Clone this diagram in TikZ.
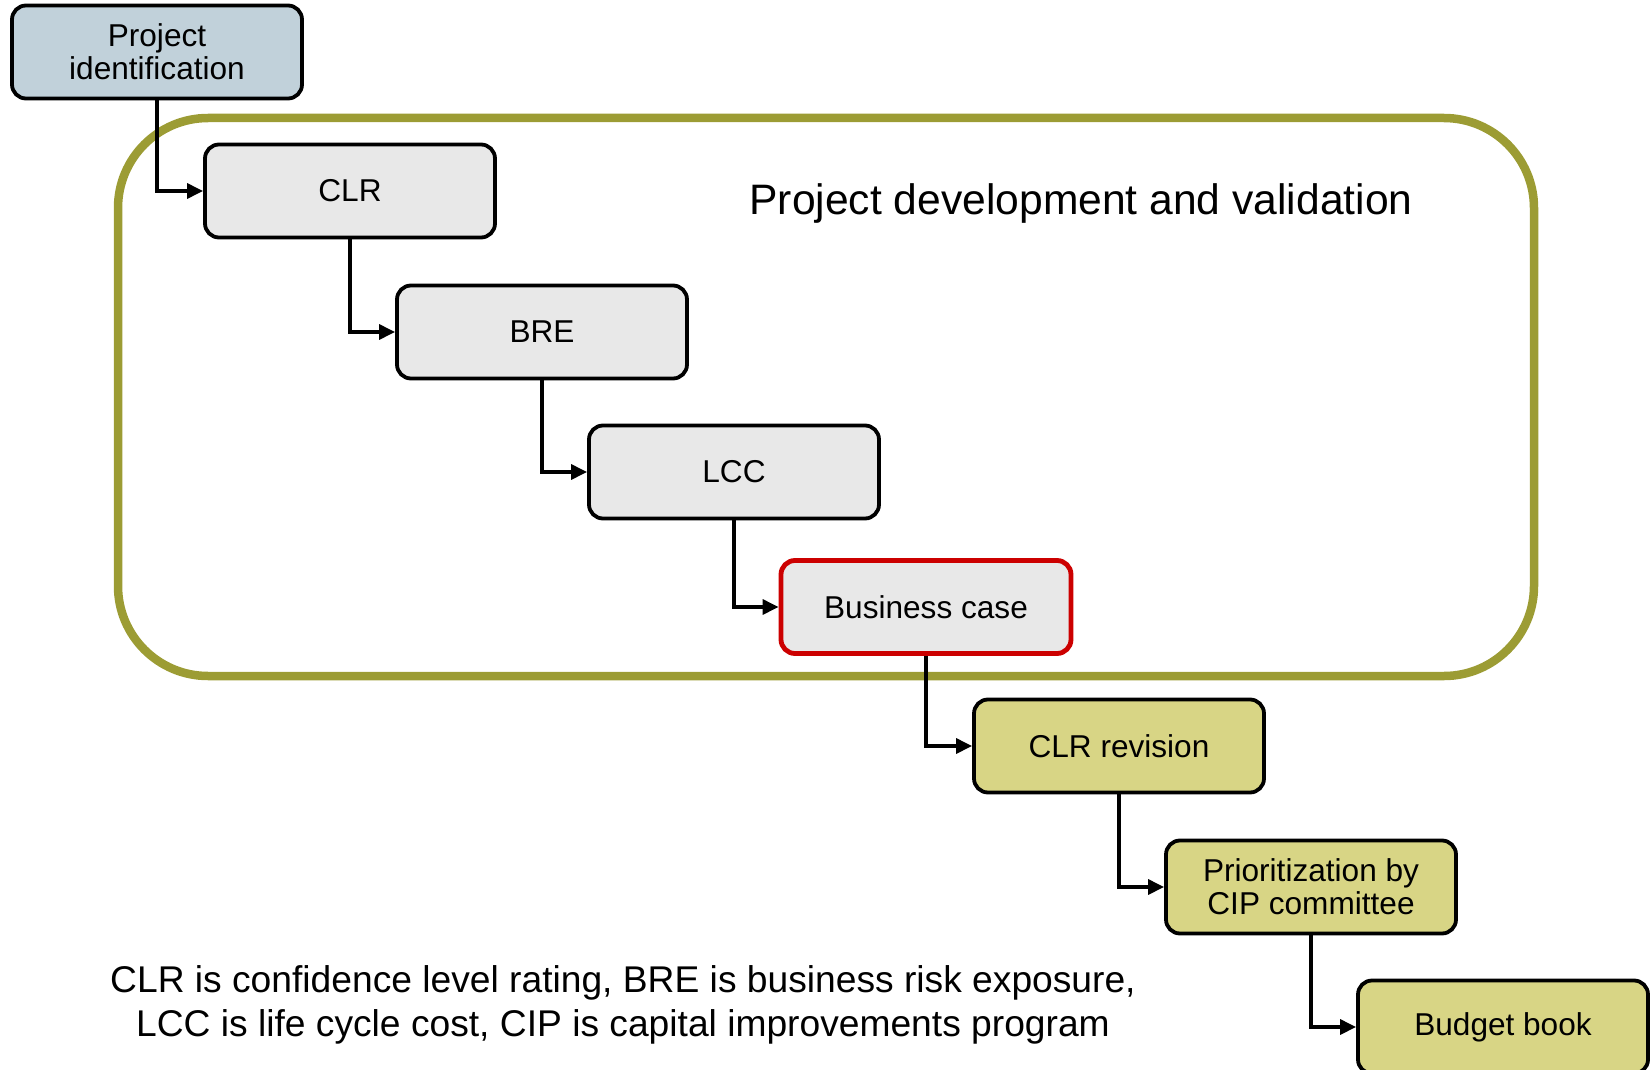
\documentclass[tikz,border=0pt]{standalone}
\usepackage{fontspec}
\setmainfont{Liberation Sans}
\usetikzlibrary{arrows.meta}
\definecolor{pidblue}{HTML}{C1D1DA}
\definecolor{boxgray}{HTML}{E8E8E8}
\definecolor{olivefill}{HTML}{D8D585}
\definecolor{olivedraw}{HTML}{9C9C34}
\definecolor{bcred}{HTML}{CC0000}
\begin{document}
\begin{tikzpicture}[x=0.5pt,y=-0.5pt,
  box/.style={draw=black, line width=1.9pt, rounded corners=7pt, minimum width=145pt,
    minimum height=46.5pt, align=center, inner sep=0pt,
    font=\fontsize{15.8}{16.4}\selectfont},
  graybox/.style={box, fill=boxgray},
  olivebox/.style={box, fill=olivefill},
  conn/.style={draw=black, line width=1.6pt, -{Triangle[length=8pt,width=7.5pt]}},
  frame/.style={draw=olivedraw, line width=4.25pt, rounded corners=45pt},
]
\useasboundingbox (0,0) rectangle (1650,1070);

% outer frame
\draw[frame] (118,118) rectangle (1534,676);
\node[font=\fontsize{21.3}{25}\selectfont, anchor=center] (title) at (1081,203) {Project development and validation};

% nodes
\node[box, fill=pidblue] (pid) at (157,52) {Project\\identification};
\node[graybox] (clr) at (350,191) {CLR};
\node[graybox] (bre) at (542,332) {BRE};
\node[graybox] (lcc) at (734,472) {LCC};
\node[graybox, draw=bcred, line width=2.4pt] (bc) at (926,607) {Business case};
\node[olivebox] (clrr) at (1119,746) {CLR revision};
\node[olivebox] (prio) at (1311,887) {Prioritization by\\CIP committee};
\node[olivebox] (bb) at (1503,1027) {Budget book};

% connectors
\draw[conn] (pid.south) |- (clr.west);
\draw[conn] (clr.south) |- (bre.west);
\draw[conn] (bre.south) |- (lcc.west);
\draw[conn] (lcc.south) |- (bc.west);
\draw[conn] (bc.south) |- (clrr.west);
\draw[conn] (clrr.south) |- (prio.west);
\draw[conn] (prio.south) |- (bb.west);

% footnote
\node[align=center, font=\fontsize{18.6}{22}\selectfont] (note) at (623,1005)
  {CLR is confidence level rating, BRE is business risk exposure,\\LCC is life cycle cost, CIP is capital improvements program};
\end{tikzpicture}
\end{document}
